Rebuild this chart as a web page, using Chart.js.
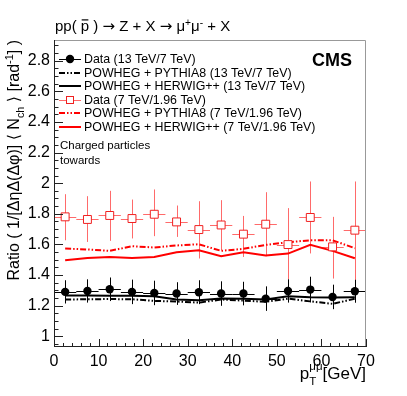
<!DOCTYPE html>
<html>
<head>
<meta charset="utf-8">
<script src="https://cdn.jsdelivr.net/npm/chart.js@4.4.1/dist/chart.umd.min.js"></script>
<style>
  html, body { margin: 0; padding: 0; background: #fff; }
  canvas { display: block; }
</style>
</head>
<body>
<canvas id="c" width="407" height="396"></canvas>
<script>
const FONT = '"Liberation Sans", Arial, Helvetica, sans-serif';
const SYM_FONT = '"DejaVu Sans", sans-serif';

// pT bins (bin centres) and half width, GeV
const ptBins = [2.5, 7.5, 12.5, 17.5, 22.5, 27.5, 32.5, 37.5, 42.5, 47.5, 52.5, 57.5, 62.5, 67.5];
const binHalf = 2.5;

// 13 TeV / 7 TeV
const data13 = [1.290, 1.296, 1.307, 1.290, 1.283, 1.279, 1.288, 1.279, 1.279, 1.246, 1.296, 1.305, 1.257, 1.294];
const data13Err = [0.076, 0.076, 0.077, 0.080, 0.080, 0.074, 0.078, 0.080, 0.077, 0.080, 0.076, 0.084, 0.080, 0.075];
const pythia13 = [1.240, 1.242, 1.243, 1.242, 1.231, 1.227, 1.220, 1.240, 1.233, 1.225, 1.246, 1.228, 1.212, 1.245];
const herwig13 = [1.266, 1.266, 1.265, 1.264, 1.262, 1.240, 1.236, 1.246, 1.245, 1.240, 1.262, 1.255, 1.253, 1.255];

// 7 TeV / 1.96 TeV
const data7 = [1.780, 1.763, 1.789, 1.769, 1.797, 1.747, 1.697, 1.727, 1.667, 1.732, 1.599, 1.776, 1.584, 1.693];
const data7Hi = [1.928, 1.915, 1.950, 1.893, 1.959, 1.854, 1.882, 1.889, 1.786, 1.941, 1.837, 2.011, 1.780, 2.011];
const data7Lo = [1.627, 1.616, 1.623, 1.639, 1.654, 1.649, 1.508, 1.562, 1.518, 1.523, 1.371, 1.541, 1.377, 1.366];
const pythia7 = [1.573, 1.567, 1.558, 1.588, 1.580, 1.593, 1.601, 1.558, 1.571, 1.597, 1.614, 1.627, 1.627, 1.575];
const herwig7 = [1.497, 1.512, 1.518, 1.512, 1.518, 1.549, 1.562, 1.523, 1.549, 1.527, 1.540, 1.597, 1.558, 1.510];

const xTicks = [0, 10, 20, 30, 40, 50, 60, 70];
const yTicks = [1, 1.2, 1.4, 1.6, 1.8, 2, 2.2, 2.4, 2.6, 2.8];

const legendLabels = [
  'Data (13 TeV/7 TeV)',
  'POWHEG + PYTHIA8 (13 TeV/7 TeV)',
  'POWHEG + HERWIG++ (13 TeV/7 TeV)',
  'Data (7 TeV/1.96 TeV)',
  'POWHEG + PYTHIA8 (7 TeV/1.96 TeV)',
  'POWHEG + HERWIG++ (7 TeV/1.96 TeV)'
];

const RED = '#ff0000', RED_ERR = '#ff6a6a', RED_MARK = '#f02020';
const DASHDOT = [6, 2, 1.5, 2, 1.5, 2];

const pts = arr => ptBins.map((x, i) => ({ x, y: arr[i] }));

// draw a run of text pieces (small = sub/superscript, dy = shift in em)
function rich(ctx, parts, x, y, size, measureOnly) {
  let cx = x;
  for (const p of parts) {
    const sz = p.small ? size * 0.68 : size;
    ctx.font = sz + 'px ' + (p.sym ? SYM_FONT : FONT);
    const w = ctx.measureText(p.t).width;
    if (!measureOnly) {
      ctx.fillText(p.t, cx, y + (p.dy || 0) * size);
      if (p.bar) ctx.fillRect(cx + w * 0.1, y - size * 0.78, w * 0.8, 1.2);
    }
    cx += w;
  }
  return cx - x;
}

const errorBars = {
  id: 'errorBars',
  beforeDatasetsDraw(chart) {
    const { ctx, scales: { x, y } } = chart;
    ctx.save();
    ctx.lineWidth = 1;
    const bars = (vals, lo, hi, color) => {
      ctx.strokeStyle = color;
      ctx.beginPath();
      ptBins.forEach((b, i) => {
        const px = Math.round(x.getPixelForValue(b)) + 0.5;
        const py = Math.round(y.getPixelForValue(vals[i])) + 0.5;
        ctx.moveTo(x.getPixelForValue(b - binHalf), py);
        ctx.lineTo(x.getPixelForValue(b + binHalf), py);
        ctx.moveTo(px, y.getPixelForValue(lo[i]));
        ctx.lineTo(px, y.getPixelForValue(hi[i]));
      });
      ctx.stroke();
    };
    bars(data7, data7Lo, data7Hi, RED_ERR);
    bars(data13, data13.map((v, i) => v - data13Err[i]), data13.map((v, i) => v + data13Err[i]), '#000');
    ctx.restore();
  }
};

const rootAxes = {
  id: 'rootAxes',
  afterDatasetsDraw(chart) {
    const { ctx, chartArea: a, scales: { x, y } } = chart;
    ctx.save();
    ctx.lineWidth = 1;
    ctx.strokeStyle = '#222';
    ctx.beginPath();
    for (let v = 0; v <= 70.001; v += 2) {
      const px = Math.round(x.getPixelForValue(v)) + 0.5;
      const len = Math.abs(v % 10) < 0.01 ? 8 : 4;
      ctx.moveTo(px, a.bottom);
      ctx.lineTo(px, a.bottom - len);
    }
    for (let v = 0.95; v <= 2.93; v += 0.05) {
      const py = Math.round(y.getPixelForValue(v)) + 0.5;
      const major = Math.abs(Math.round(v * 5) - v * 5) < 0.01;
      ctx.moveTo(a.left, py);
      ctx.lineTo(a.left + (major ? 9 : 4.5), py);
    }
    ctx.stroke();
    // frame
    ctx.strokeStyle = '#999';
    ctx.beginPath();
    ctx.moveTo(a.left, a.top + 0.5);
    ctx.lineTo(a.right - 0.5, a.top + 0.5);
    ctx.lineTo(a.right - 0.5, a.bottom);
    ctx.stroke();
    ctx.strokeStyle = '#222';
    ctx.beginPath();
    ctx.moveTo(a.left + 0.5, a.top);
    ctx.lineTo(a.left + 0.5, a.bottom - 0.5);
    ctx.lineTo(a.right, a.bottom - 0.5);
    ctx.stroke();
    ctx.restore();
  }
};

const texts = {
  id: 'texts',
  afterDraw(chart) {
    const ctx = chart.ctx;
    ctx.save();
    ctx.fillStyle = '#000';
    ctx.textBaseline = 'alphabetic';

    // top title
    rich(ctx, [
      { t: 'pp( ' }, { t: 'p', bar: true }, { t: ' ) ' }, { t: '\u2192', sym: true },
      { t: ' Z + X ' }, { t: '\u2192', sym: true }, { t: ' \u03bc' },
      { t: '+', small: true, dy: -0.35 }, { t: '\u03bc' }, { t: '-', small: true, dy: -0.35 },
      { t: ' + X' }
    ], 55, 31, 15);

    // CMS
    ctx.font = 'bold 18px ' + FONT;
    ctx.textAlign = 'right';
    ctx.fillText('CMS', 352, 66);
    ctx.textAlign = 'left';

    // legend
    const rowY = [59, 72.6, 86.2, 99.8, 113.4, 127];
    const styles = [
      { color: '#000', marker: 'circle', width: 1 },
      { color: '#000', dash: DASHDOT, width: 2 },
      { color: '#000', width: 2 },
      { color: RED_ERR, marker: 'square', width: 1 },
      { color: RED, dash: DASHDOT, width: 2 },
      { color: RED, width: 2 }
    ];
    styles.forEach((s, i) => {
      const yy = rowY[i];
      const ly = Math.round(yy) + (s.width === 1 ? 0.5 : 0);
      ctx.save();
      ctx.strokeStyle = s.color;
      ctx.lineWidth = s.width;
      ctx.setLineDash(s.dash || []);
      ctx.beginPath();
      ctx.moveTo(59, ly);
      ctx.lineTo(81, ly);
      ctx.stroke();
      ctx.setLineDash([]);
      if (s.marker === 'circle') {
        ctx.fillStyle = '#000';
        ctx.beginPath();
        ctx.arc(70, yy, 4.2, 0, Math.PI * 2);
        ctx.fill();
      } else if (s.marker === 'square') {
        ctx.fillStyle = '#fff';
        ctx.strokeStyle = RED_MARK;
        ctx.lineWidth = 1;
        ctx.fillRect(66, Math.round(yy) - 4, 8, 8);
        ctx.strokeRect(66.5, Math.round(yy) - 3.5, 7, 7);
      }
      ctx.restore();
      ctx.font = '12.4px ' + FONT;
      ctx.textBaseline = 'middle';
      ctx.fillText(legendLabels[i], 84, yy + 0.5);
      ctx.textBaseline = 'alphabetic';
    });

    // annotation
    ctx.font = '11.5px ' + FONT;
    ctx.fillText('Charged particles', 60, 149);
    ctx.fillText('towards', 60, 164);

    // x title
    ctx.font = '17px ' + FONT;
    const gev = '[GeV]';
    const gw = ctx.measureText(gev).width;
    ctx.fillText(gev, 366 - gw, 379);
    ctx.font = '11.5px ' + FONT;
    const mw = ctx.measureText('\u03bc\u03bc').width;
    ctx.fillText('\u03bc\u03bc', 366 - gw - mw, 370);
    ctx.fillText('T', 366 - gw - mw, 385);
    ctx.font = '17px ' + FONT;
    const pw = ctx.measureText('p').width;
    ctx.fillText('p', 366 - gw - mw - pw, 379);

    // y title, rotated, right-aligned to the top of the frame
    const yParts = [
      { t: 'Ratio ( 1/[\u0394\u03b7\u0394(\u0394\u03c6)] ' }, { t: '\u27e8', sym: true }, { t: ' N' },
      { t: 'ch', small: true, dy: 0.3 },
      { t: ' ' }, { t: '\u27e9', sym: true }, { t: ' [rad' },
      { t: '-1', small: true, dy: -0.38 }, { t: '] )' }
    ];
    ctx.translate(19, 40);
    ctx.rotate(-Math.PI / 2);
    const tw = rich(ctx, yParts, 0, 0, 16, true);
    rich(ctx, yParts, -tw, 0, 16);
    ctx.restore();
  }
};

new Chart(document.getElementById('c'), {
  type: 'scatter',
  data: {
    datasets: [
      { data: pts(data13), showLine: false, pointStyle: 'circle', pointRadius: 4.2,
        backgroundColor: '#000', borderColor: '#000', borderWidth: 0, order: 1 },
      { data: pts(data7), showLine: false, pointStyle: 'rect', pointRadius: 5.6,
        backgroundColor: '#fff', borderColor: RED_MARK, borderWidth: 1, order: 2 },
      { data: pts(herwig13), showLine: true, pointRadius: 0, borderColor: '#000',
        borderWidth: 2, order: 3 },
      { data: pts(pythia13), showLine: true, pointRadius: 0, borderColor: '#000',
        borderWidth: 2, borderDash: DASHDOT, order: 4 },
      { data: pts(herwig7), showLine: true, pointRadius: 0, borderColor: RED,
        borderWidth: 2, order: 5 },
      { data: pts(pythia7), showLine: true, pointRadius: 0, borderColor: RED,
        borderWidth: 2, borderDash: DASHDOT, order: 6 }
    ]
  },
  options: {
    responsive: false,
    animation: false,
    layout: { padding: { top: 40, right: 41, left: 0, bottom: 0 } },
    plugins: { legend: { display: false }, tooltip: { enabled: false } },
    scales: {
      x: {
        type: 'linear', min: 0, max: 70,
        grid: { display: false, drawTicks: false }, border: { display: false },
        afterBuildTicks: s => { s.ticks = xTicks.map(v => ({ value: v })); },
        afterFit: s => { s.height = 49; },
        ticks: { color: '#000', font: { family: FONT, size: 16 }, padding: 5,
                 maxRotation: 0, autoSkip: false, callback: v => String(v) }
      },
      y: {
        type: 'linear', min: 0.93, max: 2.935,
        grid: { display: false, drawTicks: false }, border: { display: false },
        afterBuildTicks: s => { s.ticks = yTicks.map(v => ({ value: v })); },
        afterFit: s => { s.width = 54; },
        ticks: { color: '#000', font: { family: FONT, size: 16 }, padding: 4,
                 autoSkip: false, callback: v => String(+v.toFixed(2)) }
      }
    }
  },
  plugins: [errorBars, rootAxes, texts]
});
</script>
</body>
</html>
